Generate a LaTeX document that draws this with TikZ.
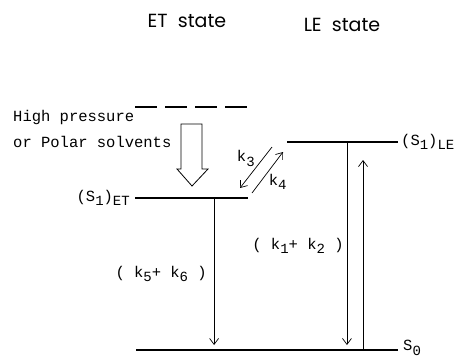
\documentclass[tikz,border=0pt]{standalone}
\usepackage{fontspec}
\usetikzlibrary{arrows.meta}
\setmonofont{Liberation Mono}
\newfontfamily\headfont{Poppins}
\newcommand{\lo}[1]{\raisebox{-0.55ex}{\fontsize{14}{14}\selectfont #1}}
\begin{document}
\begin{tikzpicture}[x=1pt,y=-1pt,
  level/.style={line width=1.7pt},
  trans/.style={-{Straight Barb[length=6pt,width=9pt]},line width=0.7pt},
  lbl/.style={font=\ttfamily\fontsize{15.5}{18}\selectfont,inner sep=1pt},
  head/.style={font=\headfont\fontsize{19}{21}\selectfont}]
  \useasboundingbox (0,0) rectangle (460,357);
  % En-têtes
  \node[head] (ethead) at (187,21) {ET\ \ state};
  \node[head] (lehead) at (342,25) {LE\ \ state};
  % Niveaux d'énergie
  \draw[level,dash pattern=on 22pt off 8pt] (135,107) -- (248,107);
  \draw[level] (135,198) coordinate (etl) -- (248,198) coordinate (etr)
    coordinate[pos=0.7] (etd);
  \draw[level] (287,142) coordinate (lel) -- (398,142) coordinate (ler)
    coordinate[pos=0.54] (led);
  \draw[level] (136,350) coordinate (s0l) -- (398,350) coordinate (s0r);
  \node[lbl,anchor=east] (etlab) at ([xshift=-4pt]etl) {(S\lo{1})\lo{ET}};
  \node[lbl,anchor=west] (lelab) at ([xshift=2pt]ler) {(S\lo{1})\lo{LE}};
  \node[lbl,anchor=west] (s0lab) at ([xshift=4pt,yshift=2pt]s0r) {S\lo{0}};
  % Pression ou solvants polaires
  \node[lbl,anchor=west] (hp) at (12,117) {High pressure};
  \node[lbl,anchor=west] (ps) at (12,142) {or Polar solvents};
  \draw[line width=0.8pt] (181,124) -- (202,124) -- (202,169) -- (208,169)
    -- (192,186) -- (177,169) -- (181,169) -- cycle;
  % Transferts k3 / k4
  \coordinate (a3) at (272,147);
  \coordinate (b3) at (240,188);
  \coordinate (a4) at (252,193);
  \coordinate (b4) at (283,152);
  \draw[trans] (a3) -- (b3) node[lbl,midway,above left=0pt] {k\lo{3}};
  \draw[trans] (a4) -- (b4) node[lbl,midway,below right=0pt] {k\lo{4}};
  % Désexcitations
  \draw[trans,shorten >=5pt] (etd) -- (etd |- s0l) node[lbl,pos=0.5,left=6pt] {( k\lo{5}+ k\lo{6} )};
  \draw[trans,shorten >=5pt] (led) -- (led |- s0l) node[lbl,pos=0.5,left=2pt] {( k\lo{1}+ k\lo{2} )};
  \coordinate (upb) at (363,350);
  \draw[trans] (upb) -- (363,160);
\end{tikzpicture}
\end{document}
